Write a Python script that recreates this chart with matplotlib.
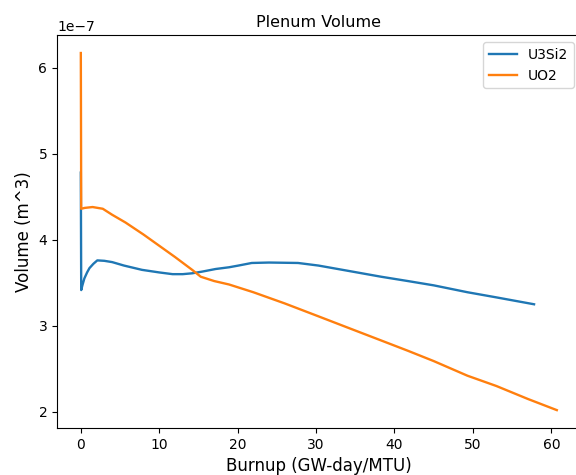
import matplotlib
matplotlib.use("Agg")
import matplotlib.pyplot as plt
import numpy as np

# Plenum volume vs burnup, values in units of 1e-7 m^3
burnup_u3si2 = [0, 0.05, 0.2, 0.45, 0.8, 1.1, 1.6, 2.1, 3.0, 4.0, 5.5, 7.8,
                10.0, 11.7, 13.0, 14.2, 15.5, 17.2, 18.9, 20.1, 21.8, 24.0,
                27.7, 30.3, 34.0, 38.3, 41.7, 45.0, 49.3, 53.0, 57.8]
volume_u3si2 = [4.78, 3.415, 3.47, 3.55, 3.62, 3.67, 3.72, 3.76, 3.755, 3.74,
                3.70, 3.65, 3.62, 3.60, 3.60, 3.61, 3.63, 3.66, 3.68, 3.70,
                3.73, 3.735, 3.73, 3.70, 3.64, 3.57, 3.52, 3.47, 3.39, 3.33,
                3.25]

burnup_uo2 = [0, 0.05, 0.5, 1.5, 2.8, 4.0, 5.7, 8.0, 10.0, 12.0, 14.2, 15.3,
              17.0, 18.9, 22.0, 26.0, 30.3, 34.0, 38.0, 41.7, 45.0, 49.3,
              53.0, 57.0, 60.7]
volume_uo2 = [6.17, 4.36, 4.37, 4.38, 4.36, 4.29, 4.20, 4.06, 3.93, 3.80,
              3.65, 3.57, 3.52, 3.48, 3.39, 3.26, 3.11, 2.98, 2.84, 2.71,
              2.59, 2.42, 2.30, 2.15, 2.02]

scale = 1e-7

fig = plt.figure(figsize=(5.76, 4.75), dpi=100)
# right edge of the axes runs just past the canvas
ax = fig.add_axes([0.099, 0.099, 0.909, 0.827])

ax.plot(burnup_u3si2, np.array(volume_u3si2) * scale, label="U3Si2", linewidth=1.7)
ax.plot(burnup_uo2, np.array(volume_uo2) * scale, label="UO2", linewidth=1.7)

ax.set_title("Plenum Volume", fontsize=11.5)
ax.set_xlabel("Burnup (GW-day/MTU)", fontsize=12)
ax.set_ylabel("Volume (m^3)", fontsize=12)
ax.legend(loc="upper right")

fig.savefig("out.png", dpi=100)
